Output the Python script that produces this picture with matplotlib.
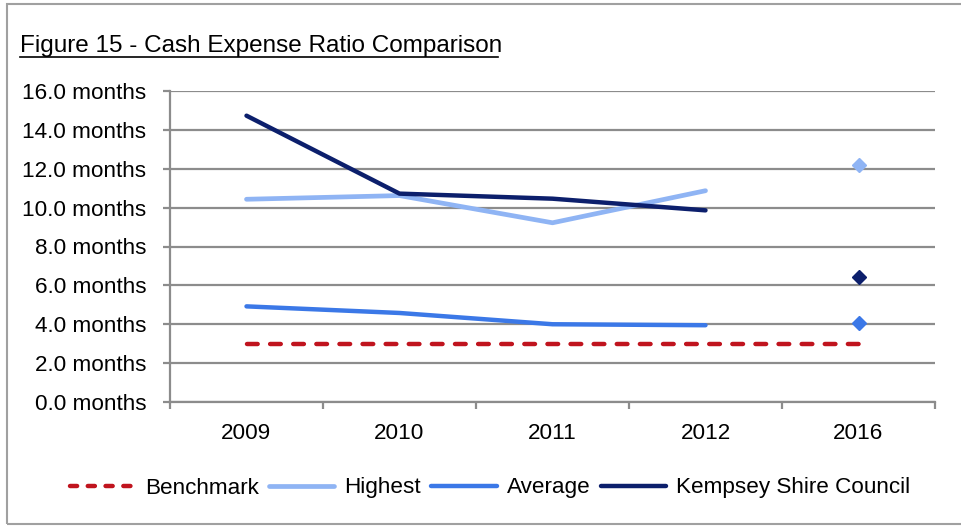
import matplotlib
matplotlib.use("Agg")
import matplotlib.pyplot as plt
from matplotlib.patches import Rectangle
from matplotlib.lines import Line2D
import numpy as np

categories = ["2009", "2010", "2011", "2012", "2016"]
benchmark = [3.0, 3.0, 3.0, 3.0, 3.0]
highest = [10.43, 10.62, 9.22, 10.87]
average = [4.92, 4.58, 4.0, 3.95]
kempsey = [14.73, 10.72, 10.46, 9.86]
highest_2016 = 12.2
average_2016 = 4.06
kempsey_2016 = 6.44
yticks = [0, 2, 4, 6, 8, 10, 12, 14, 16]

plt.rcParams['font.family'] = ['Liberation Sans', 'DejaVu Sans']

c_bench = "#C0141E"
c_high = "#8FB4F4"
c_avg = "#3B78E7"
c_kemp = "#0C1F6C"
grid_c = "#8C8C8C"
dash = (0, (2.4, 2.8))
fs = 16.2

fig = plt.figure(figsize=(9.62, 5.26), dpi=100)
ax = fig.add_axes([170/962, 1-402/526, (935-170)/962, (402-91)/526])

x = np.arange(len(categories))
ax.plot(x, benchmark, color=c_bench, lw=3.2, ls=dash, dash_capstyle='round', zorder=3)
ax.plot(x[:4], highest, color=c_high, lw=3.4, solid_capstyle='round', zorder=4)
ax.plot(x[:4], average, color=c_avg, lw=3.2, solid_capstyle='round', zorder=4)
ax.plot(x[:4], kempsey, color=c_kemp, lw=3.2, solid_capstyle='round', zorder=5)
ax.plot([4], [highest_2016], marker='D', ms=7, color=c_high, mec=c_high, ls='none', zorder=5)
ax.plot([4], [average_2016], marker='D', ms=7, color=c_avg, mec=c_avg, ls='none', zorder=5)
ax.plot([4], [kempsey_2016], marker='D', ms=7, color=c_kemp, mec=c_kemp, ls='none', zorder=5)

ax.set_xlim(-0.5, 4.5)
ax.set_ylim(0, 16)
ax.set_yticks(yticks)
ax.set_yticklabels([f"{v:.1f} months" for v in yticks], fontsize=fs)
ax.yaxis.grid(True, color=grid_c, lw=1.6)
ax.set_axisbelow(True)
ax.set_xticks(np.arange(-0.5, 4.6, 1.0))
ax.set_xticklabels([])
ax.set_xticks(x, minor=True)
ax.set_xticklabels(categories, minor=True, fontsize=fs)
ax.tick_params(axis='x', which='major', length=5, width=1.6, color=grid_c, direction='out')
ax.tick_params(axis='x', which='minor', length=0, pad=15)
ax.tick_params(axis='y', length=5, width=1.6, color=grid_c, pad=12)
for s in ['top', 'right']:
    ax.spines[s].set_visible(False)
for s in ['left', 'bottom']:
    ax.spines[s].set_color(grid_c)
    ax.spines[s].set_linewidth(1.6)

fig.text(20/962, 1-52/526, "Figure 15 - Cash Expense Ratio Comparison", fontsize=17.5,
         ha='left', va='baseline')
fig.add_artist(Line2D([20/962, 498/962], [1-57/526, 1-57/526], color='black', lw=1.2))

fig.add_artist(Rectangle((7/962, 2/526), 1.2, 1-6/526, transform=fig.transFigure,
                         fill=False, ec="#A0A0A0", lw=1.5))

handles = [
    Line2D([], [], color=c_bench, lw=3.2, ls=(0, (1.6, 2.4)), dash_capstyle='round'),
    Line2D([], [], color=c_high, lw=3.4, solid_capstyle='round'),
    Line2D([], [], color=c_avg, lw=3.2, solid_capstyle='round'),
    Line2D([], [], color=c_kemp, lw=3.2, solid_capstyle='round'),
]
labels = ["Benchmark", "Highest", "Average", "Kempsey Shire Council"]
fig.legend(handles, labels, loc='center', bbox_to_anchor=(490/962, 1-488/526), ncol=4,
           frameon=False, fontsize=fs, handlelength=2.9, handletextpad=0.45,
           columnspacing=0.45)

fig.savefig("out.png", dpi=100)
